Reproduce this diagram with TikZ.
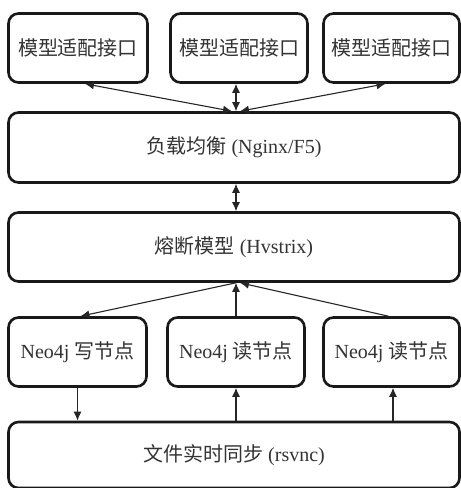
\documentclass[tikz,border=0pt]{standalone}
\usepackage{fontspec}
\setmainfont{Liberation Serif}
\newfontfamily\cjk{Noto Sans CJK SC}
\usetikzlibrary{arrows.meta,calc}
\begin{document}
\begin{tikzpicture}[x=1pt,y=-1pt,
  box/.style={draw=black!90,line width=2.6pt,rounded corners=10pt,fill=white,
    inner sep=0pt,font=\fontsize{20}{24}\selectfont,text=black!80},
  conn/.style={line width=1.1pt,black!85},
  tip/.style={-{Latex[length=9pt,width=8pt]}},
  both/.style={{Latex[length=9pt,width=8pt]}-{Latex[length=9pt,width=8pt]}}]
\useasboundingbox (0,0) rectangle (461,488);
% top row
\node[box,minimum width=139pt,minimum height=69pt] (t1) at (78,48) {\cjk 模型适配接口};
\node[box,minimum width=137pt,minimum height=69pt] (t2) at (239,48) {\cjk 模型适配接口};
\node[box,minimum width=136pt,minimum height=69pt] (t3) at (391.5,48) {\cjk 模型适配接口};
% load balancer
\node[box,minimum width=451pt,minimum height=70pt] (lb) at (234,147.5) {{\cjk 负载均衡} (Nginx/F5)};
% hystrix
\node[box,minimum width=451pt,minimum height=69pt] (hx) at (234,247) {{\cjk 熔断模型} (Hvstrix)};
% neo4j
\node[box,minimum width=138pt,minimum height=69pt] (n1) at (77.5,352) {Neo4j {\cjk 写节点}};
\node[box,minimum width=137pt,minimum height=69pt] (n2) at (236,352) {Neo4j {\cjk 读节点}};
\node[box,minimum width=136pt,minimum height=69pt] (n3) at (391.5,352) {Neo4j {\cjk 读节点}};
% rsync
\node[box,minimum width=451pt,minimum height=66pt] (rs) at (234,455) {{\cjk 文件实时同步} (rsvnc)};
% connectors top
\coordinate (lbL) at ($(lb.north)+(-2,0)$);
\coordinate (lbM) at ($(lb.north)+(2,0)$);
\coordinate (lbR) at ($(lb.north)+(6,0)$);
\draw[conn,both] ([xshift=7pt]t1.south) -- (lbL);
\draw[conn,both] (t2.south -| lbM) -- (lbM);
\draw[conn,both] ([xshift=-6pt]t3.south) -- (lbR);
% lb - hx
\draw[conn,both] (lb.south -| lbM) -- (hx.north -| lbM);
% hx - neo4j
\coordinate (hxL) at ($(hx.south)+(2,0)$);
\coordinate (hxM) at ($(hx.south)+(2,0)$);
\coordinate (hxR) at ($(hx.south)+(6,0)$);
\draw[conn,tip] (hxL) -- ([xshift=3pt]n1.north);
\draw[conn,tip] (n2.north -| hxM) -- (hxM);
\draw[conn,tip] ([xshift=-3pt]n3.north) -- (hxR);
% neo4j - rsync
\draw[conn,tip] (n1.south) -- (rs.north -| n1.south);
\draw[conn,tip] (rs.north -| n2.south) -- (n2.south);
\draw[conn,tip] (rs.north -| 393,0) -- (n3.south -| 393,0);
\end{tikzpicture}
\end{document}
